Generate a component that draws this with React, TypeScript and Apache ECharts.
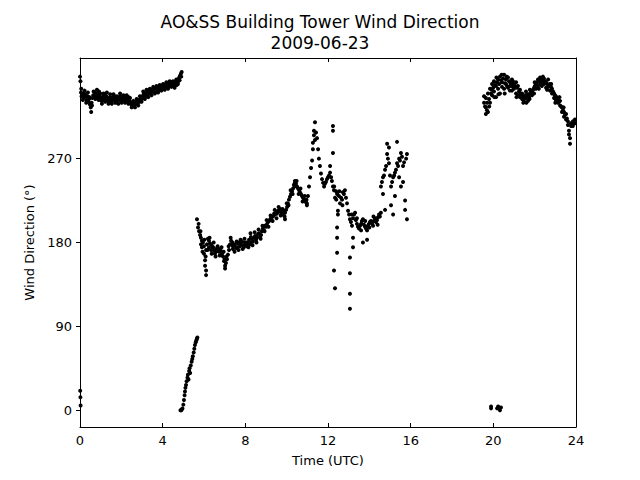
import React, { useEffect, useRef } from "react";
import * as echarts from "echarts";

const yTicks = [0, 90, 180, 270];
const titleLines = ["AO&SS Building Tower Wind Direction", "2009-06-23"];

const nightSeg: number[][] = [
  [0.0, 358], [0.02, 353], [0.05, 341], [0.08, 337], [0.12, 339], [0.16, 335], [0.2, 340], [0.24, 336],
  [0.28, 338], [0.32, 333], [0.36, 337], [0.4, 331], [0.44, 334], [0.48, 328], [0.52, 325], [0.56, 330],
  [0.6, 335], [0.64, 338], [0.68, 336], [0.72, 341], [0.76, 338], [0.8, 340], [0.84, 336], [0.88, 339],
  [0.92, 342], [0.96, 337], [1.0, 335], [1.04, 332], [1.08, 336], [1.12, 333], [1.16, 337], [1.2, 339],
  [1.24, 335], [1.28, 337], [1.32, 333], [1.36, 335], [1.4, 331], [1.44, 334], [1.48, 336], [1.52, 332],
  [1.56, 335], [1.6, 333], [1.64, 337], [1.68, 334], [1.72, 336], [1.76, 332], [1.8, 330], [1.84, 334],
  [1.88, 336], [1.92, 333], [1.96, 337], [2.0, 334], [2.04, 332], [2.08, 335], [2.12, 333], [2.16, 336],
  [2.2, 334], [2.24, 332], [2.28, 335], [2.32, 333], [2.36, 336], [2.4, 332], [2.44, 330], [2.48, 328],
  [2.52, 330], [2.56, 327], [2.6, 329], [2.64, 328], [2.68, 331], [2.72, 329], [2.76, 332], [2.8, 330],
  [2.84, 333], [2.88, 331], [2.92, 334], [2.96, 336], [3.0, 334], [3.04, 337], [3.08, 339], [3.12, 336],
  [3.16, 340], [3.2, 338], [3.24, 341], [3.28, 339], [3.32, 342], [3.36, 340], [3.4, 343], [3.44, 341],
  [3.48, 344], [3.52, 342], [3.56, 345], [3.6, 343], [3.64, 341], [3.68, 344], [3.72, 346], [3.76, 343],
  [3.8, 345], [3.84, 347], [3.88, 344], [3.92, 346], [3.96, 348], [4.0, 345], [4.04, 347], [4.08, 349],
  [4.12, 346], [4.16, 348], [4.2, 350], [4.24, 347], [4.28, 349], [4.32, 351], [4.36, 348], [4.4, 350],
  [4.44, 352], [4.48, 349], [4.52, 351], [4.56, 348], [4.6, 350], [4.64, 353], [4.68, 349], [4.72, 352],
  [4.76, 355], [4.8, 357], [4.84, 359], [4.88, 361], [4.92, 363],
];

const nightJitter: number[][] = [
  [0.06, 345], [0.14, 333], [0.22, 343], [0.3, 330], [0.38, 341], [0.46, 336], [0.54, 320], [0.58, 327],
  [0.66, 342], [0.74, 334], [0.82, 344], [0.9, 333], [0.98, 340], [1.06, 329], [1.14, 340], [1.22, 331],
  [1.3, 341], [1.38, 329], [1.46, 339], [1.54, 329], [1.62, 339], [1.7, 330], [1.78, 337], [1.86, 329],
  [1.94, 340], [2.02, 330], [2.1, 338], [2.18, 330], [2.26, 338], [2.34, 329], [2.42, 335], [2.5, 325],
  [2.58, 332], [2.66, 325], [2.74, 334], [2.82, 327], [2.9, 337], [2.98, 331], [3.06, 342], [3.14, 334],
  [3.22, 344], [3.3, 336], [3.38, 345], [3.46, 338], [3.54, 347], [3.62, 340], [3.7, 348], [3.78, 341],
  [3.86, 349], [3.94, 343], [4.02, 350], [4.1, 344], [4.18, 352], [4.26, 345], [4.34, 353], [4.42, 347],
  [4.5, 353], [4.58, 346], [4.66, 355], [4.74, 350], [4.82, 354], [4.9, 358],
];

const wrapSeg: number[][] = [
  [0.01, 21], [0.02, 14], [0.03, 5],
];

const riseSeg: number[][] = [
  [4.86, 0], [4.9, 0], [4.93, 1], [4.96, 2], [5.0, 6], [5.03, 11], [5.06, 16], [5.08, 20], [5.1, 24],
  [5.13, 27], [5.16, 31], [5.2, 35], [5.22, 38], [5.25, 33], [5.28, 42], [5.3, 45], [5.33, 40],
  [5.36, 48], [5.4, 52], [5.43, 55], [5.46, 58], [5.5, 62], [5.53, 66], [5.56, 70], [5.6, 73],
  [5.63, 75], [5.66, 77], [5.68, 78],
];

const daySeg: number[][] = [
  [5.66, 205], [5.71, 196], [5.76, 192], [5.81, 188], [5.85, 185], [5.85, 178], [5.9, 182], [5.9, 175],
  [5.95, 180], [6.0, 176], [6.0, 168], [6.05, 161], [6.05, 155], [6.1, 150], [6.1, 145], [6.1, 172],
  [6.14, 178], [6.19, 184], [6.24, 182], [6.24, 175], [6.29, 179], [6.34, 178], [6.34, 172], [6.39, 176],
  [6.44, 175], [6.49, 171], [6.53, 172], [6.53, 168], [6.58, 170], [6.63, 174], [6.68, 171], [6.73, 170],
  [6.78, 173], [6.82, 171], [6.87, 168], [6.92, 165], [6.97, 160], [7.02, 155], [7.02, 152], [7.06, 158],
  [7.11, 162], [7.16, 167], [7.21, 172], [7.26, 178], [7.31, 182], [7.35, 178], [7.4, 176], [7.4, 173],
  [7.45, 177], [7.5, 178], [7.55, 174], [7.6, 175], [7.65, 179], [7.69, 180], [7.74, 176], [7.79, 178],
  [7.84, 181], [7.89, 177], [7.93, 175], [7.98, 180], [8.03, 178], [8.08, 176], [8.13, 180], [8.18, 183],
  [8.22, 178], [8.27, 186], [8.27, 180], [8.32, 184], [8.37, 181], [8.42, 185], [8.47, 187], [8.52, 183],
  [8.56, 185], [8.61, 189], [8.66, 190], [8.71, 186], [8.76, 188], [8.8, 192], [8.85, 195], [8.9, 193],
  [8.95, 198], [9.0, 197], [9.05, 200], [9.1, 202], [9.15, 203], [9.2, 205], [9.24, 206], [9.29, 208],
  [9.34, 208], [9.39, 211], [9.44, 210], [9.49, 212], [9.53, 211], [9.58, 214], [9.63, 213], [9.68, 216],
  [9.73, 214], [9.77, 211], [9.82, 210], [9.87, 214], [9.92, 212], [9.92, 205], [9.97, 215], [10.02, 218],
  [10.06, 222], [10.11, 226], [10.16, 229], [10.21, 232], [10.26, 235], [10.31, 238], [10.35, 242],
  [10.4, 244], [10.4, 246], [10.45, 243], [10.5, 240], [10.55, 238], [10.6, 236], [10.64, 234],
  [10.69, 232], [10.74, 230], [10.79, 228], [10.84, 226], [10.89, 225], [10.94, 223], [10.98, 222],
  [10.98, 220], [11.03, 230], [11.08, 240], [11.13, 250], [11.18, 260], [11.23, 268], [11.27, 280],
  [11.27, 287], [11.32, 295], [11.32, 300], [11.37, 309], [11.37, 290], [11.42, 298], [11.47, 292],
  [11.52, 280], [11.56, 270], [11.61, 262], [11.66, 254], [11.71, 248], [11.76, 244], [11.81, 240],
  [11.85, 243], [11.9, 245], [11.95, 248], [12.0, 250], [12.05, 252], [12.1, 255], [12.1, 262],
  [12.15, 250], [12.19, 246], [12.24, 240], [12.29, 236], [12.34, 228], [12.39, 235], [12.44, 232],
  [12.48, 210], [12.48, 214], [12.53, 230], [12.58, 222], [12.63, 228], [12.68, 226], [12.72, 234],
  [12.77, 232], [12.82, 236], [12.87, 228], [12.92, 222], [12.97, 214], [13.02, 210], [13.06, 205],
  [13.11, 202], [13.16, 198], [13.21, 206], [13.26, 210], [13.31, 212], [13.35, 204], [13.4, 200],
  [13.45, 197], [13.5, 195], [13.55, 198], [13.6, 200], [13.64, 203], [13.69, 205], [13.74, 199],
  [13.79, 197], [13.84, 195], [13.89, 193], [13.93, 198], [13.98, 200], [14.03, 202], [14.08, 203],
  [14.13, 200], [14.18, 198], [14.22, 203], [14.27, 206], [14.32, 202], [14.37, 204], [14.42, 207],
  [14.47, 210], [14.51, 208], [14.56, 212], [14.56, 240], [14.61, 245], [14.66, 250], [14.66, 232],
  [14.71, 252], [14.76, 258], [14.76, 215], [14.81, 262], [14.86, 275], [14.86, 286], [14.9, 270],
  [14.95, 282], [14.95, 265], [15.0, 252], [15.05, 240], [15.05, 220], [15.1, 245], [15.15, 250],
  [15.15, 210], [15.2, 252], [15.24, 255], [15.24, 230], [15.29, 258], [15.34, 265], [15.34, 288],
  [15.39, 262], [15.44, 270], [15.44, 250], [15.48, 268], [15.53, 276], [15.53, 240], [15.58, 272],
  [15.63, 262], [15.63, 245], [15.68, 266], [15.73, 225], [15.73, 215], [15.78, 270], [15.82, 275],
  [15.82, 205],
];

const dayJitter: number[][] = [
  [5.74, 200], [5.83, 192], [5.93, 170], [6.02, 183], [6.08, 165], [6.17, 172], [6.27, 185], [6.37, 168],
  [6.47, 180], [6.56, 165], [6.66, 176], [6.76, 166], [6.85, 175], [6.95, 170], [7.0, 162], [7.09, 165],
  [7.19, 176], [7.29, 185], [7.38, 180], [7.48, 170], [7.58, 181], [7.67, 172], [7.77, 183], [7.87, 173],
  [7.96, 184], [8.06, 180], [8.15, 175], [8.25, 190], [8.35, 177], [8.45, 191], [8.54, 180], [8.64, 194],
  [8.74, 184], [8.83, 198], [8.93, 192], [9.03, 204], [9.12, 197], [9.22, 209], [9.32, 203], [9.42, 215],
  [9.51, 206], [9.61, 218], [9.71, 209], [9.8, 216], [9.9, 208], [10.0, 222], [10.09, 220], [10.19, 236],
  [10.29, 232], [10.38, 240], [10.48, 246], [10.58, 232], [10.67, 238], [10.77, 224], [10.87, 230],
  [10.96, 226], [12.3, 240], [12.4, 226], [12.55, 235], [12.7, 220], [13.15, 210], [13.4, 206],
  [13.6, 193], [13.8, 203], [14.0, 196], [14.2, 208], [14.4, 199],
];

const dayOutliers: number[][] = [
  [12.24, 305], [12.24, 300], [12.24, 276], [12.29, 150], [12.34, 131], [12.44, 196], [12.44, 185],
  [12.44, 169], [13.06, 164], [13.06, 147], [13.06, 125], [13.06, 109], [13.21, 185], [13.21, 175],
  [13.69, 180], [13.89, 183],
];

const eveningSeg: number[][] = [
  [19.55, 337], [19.55, 330], [19.6, 326], [19.64, 325], [19.64, 318], [19.64, 335], [19.69, 322],
  [19.74, 320], [19.74, 340], [19.79, 334], [19.84, 345], [19.84, 330], [19.89, 340], [19.94, 350],
  [19.94, 338], [19.99, 346], [20.03, 353], [20.03, 342], [20.08, 349], [20.13, 348], [20.13, 336],
  [20.18, 352], [20.23, 355], [20.23, 345], [20.28, 350], [20.32, 358], [20.32, 340], [20.37, 354],
  [20.42, 352], [20.42, 347], [20.47, 356], [20.52, 360], [20.52, 345], [20.56, 351], [20.61, 355],
  [20.61, 350], [20.66, 348], [20.71, 357], [20.71, 346], [20.76, 353], [20.81, 352], [20.81, 348],
  [20.86, 350], [20.9, 355], [20.9, 343], [20.95, 347], [21.0, 350], [21.0, 345], [21.05, 348],
  [21.1, 352], [21.1, 340], [21.15, 346], [21.19, 348], [21.19, 338], [21.24, 342], [21.29, 344],
  [21.29, 336], [21.34, 339], [21.39, 340], [21.39, 334], [21.44, 337], [21.48, 338], [21.48, 332],
  [21.53, 336], [21.58, 342], [21.58, 335], [21.63, 339], [21.68, 338], [21.68, 332], [21.73, 336],
  [21.77, 340], [21.77, 344], [21.82, 341], [21.87, 338], [21.87, 342], [21.92, 344], [21.97, 346],
  [21.97, 340], [22.01, 348], [22.06, 350], [22.06, 345], [22.11, 352], [22.16, 355], [22.16, 348],
  [22.21, 353], [22.26, 357], [22.26, 350], [22.31, 355], [22.35, 354], [22.35, 348], [22.4, 352],
  [22.45, 356], [22.45, 350], [22.5, 353], [22.55, 352], [22.55, 346], [22.6, 350], [22.65, 355],
  [22.65, 347], [22.7, 349], [22.74, 350], [22.74, 343], [22.79, 347], [22.84, 345], [22.84, 340],
  [22.89, 342], [22.94, 340], [22.94, 335], [22.98, 338], [23.03, 333], [23.03, 337], [23.08, 334],
  [23.13, 330], [23.13, 335], [23.18, 331], [23.23, 327], [23.23, 332], [23.28, 326], [23.32, 325],
  [23.32, 320], [23.37, 322], [23.42, 320], [23.42, 315], [23.47, 317], [23.52, 318], [23.52, 312],
  [23.56, 313], [23.61, 310], [23.61, 306], [23.66, 300], [23.66, 296], [23.71, 292], [23.71, 286],
  [23.76, 305], [23.76, 308], [23.81, 307], [23.85, 310], [23.85, 305], [23.9, 309], [23.95, 312],
  [23.95, 308],
];

const eveningJitter: number[][] = [
  [19.7, 330], [19.8, 326], [19.92, 344], [20.05, 336], [20.15, 357], [20.25, 339], [20.4, 360],
  [20.55, 340], [20.65, 358], [20.8, 343], [20.95, 353], [21.12, 336], [21.3, 340], [21.45, 330],
  [21.6, 330], [21.75, 334], [22.0, 352], [22.2, 345], [22.4, 358], [22.6, 344], [22.8, 350],
  [23.0, 330], [23.2, 336], [23.4, 325],
];

const eveningLow: number[][] = [
  [19.89, 2], [19.89, 4], [20.18, 2], [20.23, 4], [20.27, 3], [20.32, 0], [20.37, 3],
];

const FONT = "DejaVu Sans";

export default function App() {
  const ref = useRef<HTMLDivElement>(null);

  useEffect(() => {
    if (!ref.current) return;
    const chart = echarts.init(ref.current, null, { renderer: "svg" });
    const allPoints = [
      ...nightSeg,
      ...nightJitter,
      ...wrapSeg,
      ...riseSeg,
      ...daySeg,
      ...dayJitter,
      ...dayOutliers,
      ...eveningSeg,
      ...eveningJitter,
      ...eveningLow,
    ];
    const axisLine = { show: true, onZero: false, lineStyle: { color: "#000", width: 1 } };
    const titleStyle = {
      fontFamily: FONT,
      fontSize: 17,
      fontWeight: "normal",
      color: "#000",
    };
    chart.setOption({
      animation: false,
      backgroundColor: "#fff",
      title: [
        { text: titleLines[0], left: "center", top: 8, textStyle: titleStyle },
        { text: titleLines[1], left: "center", top: 29, textStyle: titleStyle },
      ],
      grid: { left: 80, right: 64, top: 58, bottom: 53, containLabel: false },
      xAxis: [
        {
          type: "value",
          min: 0,
          max: 24,
          interval: 4,
          position: "bottom",
          name: "Time (UTC)",
          nameLocation: "middle",
          nameGap: 27,
          nameTextStyle: { fontFamily: FONT, fontSize: 13, color: "#000" },
          axisLine,
          axisTick: { show: true, inside: true, length: 4, lineStyle: { color: "#000" } },
          axisLabel: { fontFamily: FONT, fontSize: 13, color: "#000", margin: 7 },
          splitLine: { show: false },
        },
        {
          type: "value",
          min: 0,
          max: 24,
          interval: 4,
          position: "top",
          axisLine,
          axisTick: { show: true, inside: true, length: 4, lineStyle: { color: "#000" } },
          axisLabel: { show: false },
          splitLine: { show: false },
        },
      ],
      yAxis: [
        {
          type: "value",
          min: -18,
          max: 378,
          position: "left",
          name: "Wind Direction (°)",
          nameLocation: "middle",
          nameGap: 42,
          nameTextStyle: { fontFamily: FONT, fontSize: 13, color: "#000" },
          axisLine,
          axisTick: {
            show: true,
            inside: false,
            length: 4,
            customValues: yTicks,
            lineStyle: { color: "#000" },
          },
          axisLabel: {
            fontFamily: FONT,
            fontSize: 13,
            color: "#000",
            margin: 8,
            customValues: yTicks,
          },
          splitLine: { show: false },
        },
        {
          type: "value",
          min: -18,
          max: 378,
          position: "right",
          axisLine,
          axisTick: { show: false },
          axisLabel: { show: false },
          splitLine: { show: false },
        },
      ],
      series: [
        {
          type: "scatter",
          xAxisIndex: 0,
          yAxisIndex: 0,
          data: allPoints,
          symbol: "circle",
          symbolSize: 4,
          itemStyle: { color: "#000", opacity: 1 },
          clip: false,
        },
      ],
    });
    return () => chart.dispose();
  }, []);

  return (
    <div
      ref={ref}
      style={{ position: "fixed", left: 0, top: 0, width: 640, height: 480, background: "#fff" }}
    />
  );
}
